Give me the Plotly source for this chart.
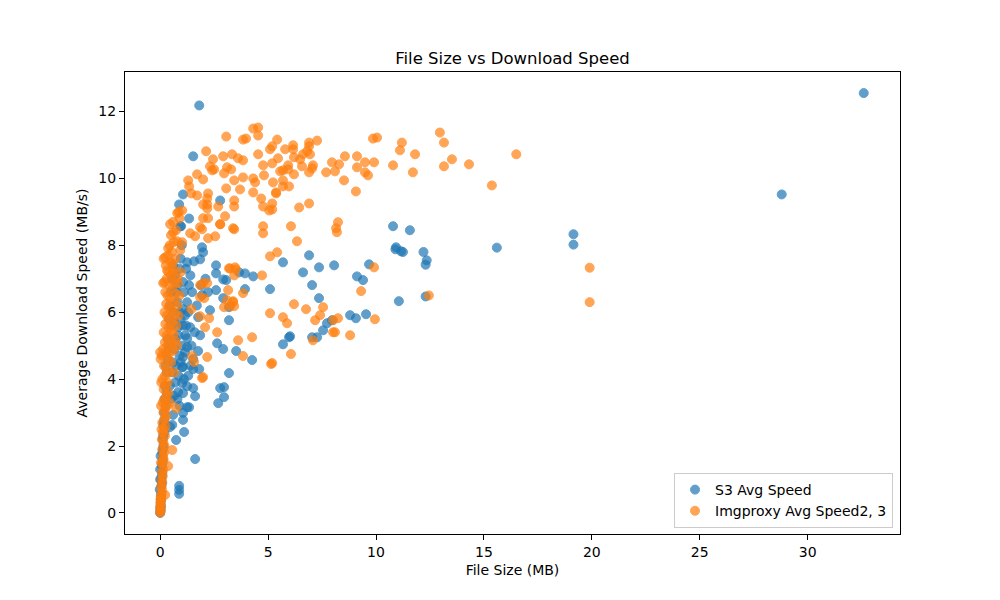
import plotly.graph_objects as go

# (file size MB, avg speed MB/s) pairs
s3_points = [
    (32.6, 12.55), (28.8, 9.52), (19.15, 8.33), (19.15, 8.02), (15.6, 7.93),
    (12.35, 7.55), (12.3, 7.42), (12.2, 7.8), (12.3, 6.47), (11.57, 8.45),
    (11.16, 7.82), (11.25, 7.8), (10.93, 7.94), (10.9, 7.88), (10.79, 8.57),
    (11.06, 6.33), (9.68, 7.43), (9.54, 5.94), (9.4, 6.96), (9.12, 7.07),
    (9.07, 5.82), (8.8, 5.91), (8.06, 7.40), (7.96, 5.76), (7.73, 5.67),
    (7.55, 5.46), (7.36, 7.34), (7.36, 6.42), (7.27, 5.25), (7.04, 5.25),
    (7.04, 6.81), (6.9, 7.7), (6.62, 7.19), (6.02, 5.28), (5.97, 5.25),
    (5.69, 5.04), (5.69, 7.49), (5.09, 6.69), (4.31, 7.07), (4.26, 4.57),
    (3.93, 7.16), (3.93, 6.69), (3.66, 7.19), (3.52, 4.84), (3.19, 5.76),
    (3.19, 6.15), (3.19, 4.18), (3.06, 6.96), (2.96, 3.76), (2.96, 3.46),
    (2.92, 6.98), (2.92, 6.42), (2.92, 4.9), (2.78, 9.34), (2.78, 3.73),
    (2.69, 3.28), (2.64, 5.07), (2.59, 7.40), (2.59, 7.16), (2.59, 6.66),
    (2.31, 6.06), (2.22, 6.6), (1.99, 7.79), (1.94, 7.94), (1.94, 6.51),
    (1.85, 7.58), (1.85, 5.31), (1.81, 12.18), (1.53, 10.66), (1.53, 4.6),
    (1.53, 4.3), (1.53, 3.73), (1.57, 7.52), (1.62, 3.49), (1.62, 1.61),
    (1.76, 5.85), (1.76, 4.84), (1.81, 4.3), (1.48, 6.6), (1.39, 5.55),
    (1.34, 6.81), (1.34, 8.8), (1.34, 3.16), (1.25, 7.49), (1.25, 6.3),
    (1.25, 5.22), (1.25, 4.96), (1.25, 3.79), (1.25, 3.16), (1.16, 5.31),
    (1.11, 2.42), (1.06, 9.52), (1.06, 6.9), (1.06, 6.09), (1.06, 4.66),
    (1.06, 4.36), (1.06, 3.58), (1.06, 2.99), (1.06, 2.78), (1.02, 4.36),
    (1.02, 3.88), (0.97, 8.57), (0.93, 8.57), (0.88, 9.22), (0.88, 0.81),
    (0.88, 0.69), (0.88, 0.57), (0.83, 5.55), (0.83, 3.61), (0.74, 2.18),
    (0.6, 2.93), (0.56, 2.63), (0.46, 2.57),
    (0.7, 7.1), (0.75, 6.6), (0.8, 6.3), (0.9, 6.0), (0.95, 5.8), (0.7, 5.2),
    (0.65, 4.9), (0.6, 4.5), (0.55, 4.2), (0.7, 3.9), (0.8, 3.4), (0.9, 3.2),
    (0.5, 3.4), (0.45, 3.8), (0.65, 3.5), (1.15, 5.9), (1.2, 5.6), (1.0, 5.0),
    (0.9, 4.7), (0.85, 4.1), (1.1, 4.0), (1.3, 4.1), (1.4, 4.4), (1.45, 5.0),
    (1.6, 5.4), (1.7, 6.2), (1.9, 6.8), (2.1, 7.0), (1.4, 7.1), (1.2, 7.3),
    (0.95, 7.6), (1.0, 8.0), (0.6, 6.0), (0.5, 5.6), (0.4, 5.0), (0.35, 4.6),
    (0.3, 4.2), (0.3, 3.6), (0.25, 3.2), (0.2, 2.8), (0.2, 2.4), (0.15, 2.0),
    (0.12, 1.6), (0.1, 1.2), (0.08, 0.9), (0.05, 0.6), (0.04, 0.4), (0.03, 0.2),
    (0.02, 0.1), (0.01, 0.05), (0.06, 0.8), (0.08, 1.4), (0.1, 1.8), (0.12, 2.2),
    (0.15, 2.6), (0.18, 3.0), (0.2, 3.4), (0.22, 3.8), (0.25, 4.4), (0.3, 4.8),
    (0.35, 5.2), (0.4, 5.8), (0.45, 6.2), (0.5, 6.6), (0.55, 7.0), (0.6, 7.4),
    (0.02, 0.3), (0.03, 0.5), (0.05, 1.0), (0.07, 1.1), (0.1, 1.5), (0.12, 1.9),
    (0.14, 2.3), (0.16, 2.7), (0.0, 0.0), (0.01, 0.15), (-0.02, 0.7), (0.0, 1.3),
    (0.0, 1.0), (0.02, 1.7), (0.75, 4.4), (0.95, 4.5), (1.15, 4.8), (0.85, 5.3),
    (1.05, 5.6), (0.65, 5.7), (0.8, 6.8), (1.1, 6.6), (0.9, 7.3), (1.3, 6.0),
]

img_points = [
    (19.9, 7.33), (19.9, 6.3), (16.5, 10.72), (15.37, 9.79), (14.31, 10.42),
    (13.52, 10.57), (13.15, 10.36), (13.15, 11.07), (12.96, 11.37), (12.45, 6.5),
    (11.81, 10.72), (11.71, 10.18), (11.2, 11.07), (11.11, 10.84), (10.79, 10.39),
    (10.05, 11.22), (9.86, 11.19), (9.91, 10.48), (9.49, 10.48), (9.12, 10.66),
    (8.56, 10.66), (8.29, 10.42), (7.96, 10.48), (9.12, 10.33), (9.49, 10.18),
    (9.63, 10.09), (8.1, 10.21), (7.69, 10.18), (8.52, 9.94), (9.07, 9.61),
    (9.91, 7.34), (9.31, 6.63), (9.95, 5.79), (8.8, 5.31), (8.24, 8.69),
    (8.15, 8.51), (8.19, 8.39), (8.24, 5.82), (8.01, 5.76), (8.01, 5.40),
    (8.1, 5.40), (7.55, 6.15), (7.41, 5.91), (7.18, 5.76), (7.08, 5.16),
    (6.76, 6.09), (6.34, 8.12), (6.2, 6.24), (6.06, 8.57), (6.06, 4.75),
    (5.88, 5.67), (5.69, 5.85), (5.42, 7.79), (5.09, 7.67), (5.09, 5.97),
    (5.14, 4.45), (7.27, 11.13), (6.9, 11.07), (6.9, 10.96), (6.81, 10.81),
    (6.62, 10.72), (6.94, 10.72), (6.2, 10.63), (6.48, 10.57), (6.16, 10.99),
    (6.16, 10.87), (5.79, 10.87), (5.42, 11.16), (5.46, 10.6), (5.19, 10.45),
    (5.93, 10.39), (6.57, 10.36), (7.08, 10.39), (7.04, 10.3), (5.69, 10.24),
    (5.93, 10.27), (6.2, 10.12), (6.9, 10.18), (5.23, 9.88), (5.69, 9.94),
    (5.69, 9.76), (5.97, 9.76), (5.37, 9.58), (5.19, 9.25), (5.19, 9.07),
    (6.44, 9.13), (6.9, 9.25), (5.09, 10.87), (5.19, 10.96), (4.54, 11.52),
    (4.31, 11.49), (4.54, 11.28), (3.84, 11.16), (3.98, 11.19), (3.06, 11.25),
    (2.13, 10.81), (2.45, 10.57), (2.92, 10.66), (3.33, 10.72), (3.61, 10.6),
    (3.84, 10.54), (4.54, 10.72), (1.71, 10.12), (1.99, 9.97), (2.31, 10.36),
    (2.41, 10.24), (2.5, 10.27), (3.1, 10.33), (3.29, 10.27), (2.96, 10.15),
    (3.43, 9.94), (3.84, 10.03), (4.31, 10.0), (4.4, 9.88), (4.77, 10.39),
    (4.81, 10.09), (5.56, 10.21), (1.3, 9.94), (1.34, 9.76), (1.44, 9.55),
    (1.71, 9.49), (2.22, 9.55), (2.18, 9.4), (2.18, 9.22), (2.18, 9.1),
    (1.99, 9.22), (3.06, 9.7), (3.7, 9.67), (4.31, 9.58), (4.68, 9.4),
    (4.77, 9.16), (5.05, 9.04), (5.37, 9.55), (3.43, 9.34), (3.43, 9.16),
    (2.69, 9.16), (3.01, 8.87), (2.78, 8.63), (0.79, 8.96), (1.02, 9.04),
    (0.46, 8.63), (1.99, 8.81), (2.22, 8.81), (1.85, 8.54), (4.77, 8.57),
    (3.38, 8.51), (3.19, 7.31), (3.47, 7.34), (3.43, 7.1), (4.72, 7.1),
    (1.99, 6.87), (2.18, 6.87), (3.15, 6.66), (3.84, 6.57), (2.04, 6.42),
    (3.1, 6.36), (3.38, 6.3), (2.96, 6.15), (3.43, 6.18), (1.85, 6.45),
    (2.27, 5.82), (2.08, 5.55), (2.64, 5.4), (3.61, 5.16), (4.26, 5.25),
    (3.84, 4.69), (2.18, 4.66), (1.99, 4.06), (0.6, 8.39), (1.39, 8.36),
    (1.62, 8.27), (1.94, 8.48), (2.22, 8.21), (2.55, 8.27), (2.78, 8.63),
    (3.43, 8.48), (4.77, 8.36), (0.79, 8.12), (1.02, 8.09), (0.93, 7.85),
    (0.37, 7.91), (0.23, 7.64), (0.56, 7.46), (0.32, 7.25), (0.6, 7.19),
    (0.79, 7.01), (0.14, 6.87), (0.83, 6.87), (1.85, 6.81), (1.44, 6.09),
    (1.85, 5.88), (1.57, 4.51), (1.48, 4.69), (1.94, 4.03), (0.74, 3.13),
    (0.56, 1.88), (0.37, 1.4), (0.23, 0.54), (5.19, 4.48), (3.24, 7.31),
    (3.5, 7.28), (3.38, 6.33), (3.24, 6.18),
    (0.0, 0.0), (0.02, 0.05), (0.01, 0.1), (0.03, 0.2), (0.02, 0.3), (0.05, 0.4),
    (0.04, 0.5), (0.06, 0.6), (0.08, 0.7), (0.05, 0.8), (0.1, 0.9), (0.07, 1.0),
    (0.12, 1.1), (0.09, 1.2), (0.14, 1.3), (0.11, 1.5), (0.16, 1.6), (0.13, 1.7),
    (0.18, 1.8), (0.1, 1.9), (0.2, 2.0), (0.15, 2.1), (0.08, 2.2), (0.22, 2.3),
    (0.12, 2.4), (0.18, 2.5), (0.25, 2.6), (0.1, 2.7), (0.2, 2.8), (0.28, 2.9),
    (0.15, 3.0), (0.24, 3.1), (0.32, 3.2), (0.12, 3.3), (0.2, 3.4), (0.3, 3.5),
    (0.38, 3.6), (0.16, 3.7), (0.26, 3.8), (0.35, 3.9), (0.1, 4.0), (0.22, 4.1),
    (0.42, 4.2), (0.3, 4.3), (0.18, 4.4), (0.5, 4.5), (0.36, 4.6), (0.08, 4.7),
    (0.26, 4.75), (0.46, 4.8), (0.6, 4.85), (0.14, 4.9), (0.34, 5.0), (0.55, 5.05),
    (0.22, 5.1), (0.7, 5.15), (0.42, 5.2), (0.3, 5.3), (0.62, 5.35), (0.16, 5.4),
    (0.5, 5.45), (0.38, 5.55), (0.75, 5.6), (0.24, 5.65), (0.58, 5.7), (0.44, 5.8),
    (0.3, 5.9), (0.68, 5.95), (0.2, 6.0), (0.52, 6.05), (0.4, 6.15), (0.8, 6.2),
    (0.28, 6.25), (0.62, 6.3), (0.46, 6.4), (0.34, 6.5), (0.72, 6.55), (0.24, 6.6),
    (0.56, 6.7), (0.42, 6.8), (0.66, 6.9), (0.3, 7.0), (0.5, 7.1), (0.38, 7.2),
    (0.6, 7.3), (0.26, 7.4), (0.48, 7.5), (0.7, 7.6), (0.36, 7.7), (0.55, 7.8),
    (0.44, 8.0), (0.64, 8.1), (0.5, 8.3), (0.74, 8.45), (0.6, 8.7), (0.86, 9.0),
    (0.9, 8.8), (0.0, 4.8), (0.02, 4.6), (0.05, 3.9), (0.04, 3.2), (0.06, 2.5),
    (0.03, 1.5), (0.0, 0.2), (0.01, 0.4), (0.2, 6.9), (0.16, 7.6),
    (0.85, 5.9), (0.9, 6.5), (0.78, 5.0), (0.95, 7.2), (0.65, 4.2), (0.45, 3.3),
]

x_ticks = [0, 5, 10, 15, 20, 25, 30]
y_ticks = [0, 2, 4, 6, 8, 10, 12]

s3_size = [p[0] for p in s3_points]
s3_speed = [p[1] for p in s3_points]
img_size = [p[0] for p in img_points]
img_speed = [p[1] for p in img_points]

font = "DejaVu Sans"

fig = go.Figure()
fig.add_trace(go.Scatter(
    x=s3_size, y=s3_speed, mode="markers", name="S3 Avg Speed",
    marker=dict(color="#1f77b4", size=9, opacity=0.7,
                line=dict(color="#1f77b4", width=1)),
))
fig.add_trace(go.Scatter(
    x=img_size, y=img_speed, mode="markers", name="Imgproxy Avg Speed2, 3",
    marker=dict(color="#ff7f0e", size=9, opacity=0.7,
                line=dict(color="#ff7f0e", width=1)),
))

axis_common = dict(
    showline=True, linecolor="black", linewidth=1, mirror=True,
    ticks="outside", ticklen=5, tickwidth=1, tickcolor="black",
    showgrid=False, zeroline=False,
    tickfont=dict(family=font, size=14, color="black"),
)

fig.update_layout(
    width=1000, height=600,
    margin=dict(l=125, r=100, t=72, b=66),
    paper_bgcolor="white", plot_bgcolor="white",
    font=dict(family=font, size=14, color="black"),
    title=dict(text="File Size vs Download Speed", x=0.5, xref="paper",
               y=1 - 58 / 600, yref="container", yanchor="middle",
               font=dict(family=font, size=16.5, color="black")),
    xaxis=dict(range=[-1.63, 34.28], tickvals=x_ticks,
               title=dict(text="File Size (MB)", standoff=6,
                          font=dict(family=font, size=14)),
               **axis_common),
    yaxis=dict(range=[-0.63, 13.18], tickvals=y_ticks,
               title=dict(text="Average Download Speed (MB/s)", standoff=7,
                          font=dict(family=font, size=14)),
               **axis_common),
    legend=dict(x=0.991, xanchor="right", y=0.013, yanchor="bottom",
                bgcolor="rgba(255,255,255,0.8)", bordercolor="#cccccc",
                borderwidth=1, font=dict(family=font, size=14)),
    showlegend=True,
)

fig.write_html("out.html")
